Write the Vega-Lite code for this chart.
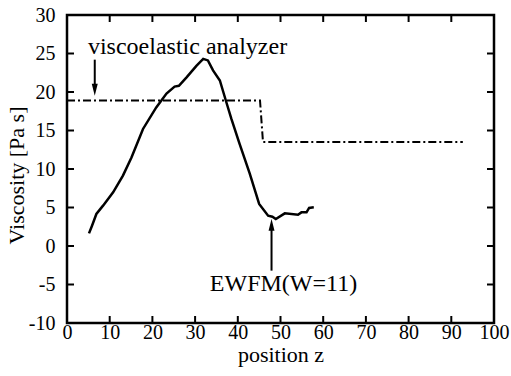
{
  "$schema": "https://vega.github.io/schema/vega-lite/v6.json",
  "width": 427,
  "height": 308,
  "autosize": {"type": "none"},
  "padding": {"left": 67, "top": 15, "right": 17, "bottom": 53},
  "background": "white",
  "config": {
    "view": {"stroke": "black", "strokeWidth": 2.5, "fill": "transparent"},
    "axis": {
      "grid": false,
      "domain": false,
      "ticks": false,
      "labelColor": "black",
      "labelFont": "Liberation Serif",
      "labelFontSize": 20,
      "titleFont": "Liberation Serif",
      "titleFontSize": 22,
      "titleFontWeight": "normal",
      "titleColor": "black",
      "labelFlush": false,
      "labelOverlap": false
    },
    "text": {"font": "Liberation Serif", "fontSize": 24, "color": "black"}
  },
  "datasets": {
    "curve": [
      {"z": 5.15, "v": 1.64},
      {"z": 5.86, "v": 2.64},
      {"z": 6.88, "v": 4.16},
      {"z": 8.44, "v": 5.24},
      {"z": 10.8, "v": 6.97},
      {"z": 13.1, "v": 9.14},
      {"z": 15.1, "v": 11.5},
      {"z": 17.8, "v": 15.2},
      {"z": 20.9, "v": 18.0},
      {"z": 23.3, "v": 19.8},
      {"z": 25.2, "v": 20.7},
      {"z": 26.2, "v": 20.8},
      {"z": 28.0, "v": 21.9},
      {"z": 30.3, "v": 23.4},
      {"z": 31.9, "v": 24.3},
      {"z": 33.0, "v": 24.1},
      {"z": 34.2, "v": 22.8},
      {"z": 35.8, "v": 21.5},
      {"z": 37.3, "v": 18.7},
      {"z": 38.5, "v": 16.5},
      {"z": 40.4, "v": 13.3},
      {"z": 42.8, "v": 9.4},
      {"z": 45.0, "v": 5.46},
      {"z": 47.1, "v": 3.94},
      {"z": 48.1, "v": 3.81},
      {"z": 48.9, "v": 3.51},
      {"z": 51.0, "v": 4.24},
      {"z": 54.1, "v": 4.07},
      {"z": 54.9, "v": 4.37},
      {"z": 56.1, "v": 4.37},
      {"z": 56.7, "v": 4.94},
      {"z": 57.8, "v": 5.02}
    ],
    "analyzer": [
      {"z": 0, "v": 18.9},
      {"z": 45.2, "v": 18.9},
      {"z": 45.9, "v": 13.5},
      {"z": 92.7, "v": 13.5}
    ],
    "labels": [
      {"z": 4.9, "v": 24.9, "label": "viscoelastic analyzer", "align": "left"},
      {"z": 50.7, "v": -5.8, "label": "EWFM(W=11)", "align": "center"}
    ],
    "arrows": [
      {"z": 6.5, "from": 24.2, "to": 20.3, "dir": "down"},
      {"z": 47.9, "from": -3.2, "to": 2.77, "dir": "up"}
    ],
    "xticks": [
      {"t": 10}, {"t": 20}, {"t": 30}, {"t": 40}, {"t": 50}, {"t": 60}, {"t": 70}, {"t": 80}, {"t": 90}
    ],
    "yticks": [
      {"t": -5}, {"t": 0}, {"t": 5}, {"t": 10}, {"t": 15}, {"t": 20}, {"t": 25}
    ]
  },
  "layer": [
    {
      "data": {"name": "curve"},
      "mark": {"type": "line", "color": "black", "strokeWidth": 2.5, "interpolate": "linear"},
      "encoding": {
        "x": {
          "field": "z", "type": "quantitative",
          "scale": {"domain": [0, 100], "nice": false, "zero": false},
          "axis": {"orient": "bottom", "title": "position z", "values": [0,10,20,30,40,50,60,70,80,90,100], "labelPadding": -1, "titleX": 213.5, "titleY": 38, "titleBaseline": "alphabetic", "titleAlign": "center"}
        },
        "y": {
          "field": "v", "type": "quantitative",
          "scale": {"domain": [-10, 30], "nice": false, "zero": false},
          "axis": {"orient": "left", "title": "Viscosity [Pa s]", "values": [-10,-5,0,5,10,15,20,25,30], "labelPadding": 12, "labelExpr": "datum.value < 0 ? '-' + abs(datum.value) : '' + datum.value", "titleX": -44, "titleY": 160, "titleBaseline": "alphabetic", "titleAlign": "center", "titleAngle": -90}
        }
      }
    },
    {
      "data": {"name": "xticks"},
      "mark": {"type": "tick", "orient": "vertical", "size": 14, "thickness": 2, "color": "black", "opacity": 1, "clip": true},
      "encoding": {
        "x": {"field": "t", "type": "quantitative", "axis": null},
        "y": {"datum": -10, "type": "quantitative", "axis": null}
      }
    },
    {
      "data": {"name": "xticks"},
      "mark": {"type": "tick", "orient": "vertical", "size": 14, "thickness": 2, "color": "black", "opacity": 1, "clip": true},
      "encoding": {
        "x": {"field": "t", "type": "quantitative", "axis": null},
        "y": {"datum": 30, "type": "quantitative", "axis": null}
      }
    },
    {
      "data": {"name": "yticks"},
      "mark": {"type": "tick", "orient": "horizontal", "size": 14, "thickness": 2, "color": "black", "opacity": 1, "clip": true},
      "encoding": {
        "y": {"field": "t", "type": "quantitative", "axis": null},
        "x": {"datum": 0, "type": "quantitative", "axis": null}
      }
    },
    {
      "data": {"name": "yticks"},
      "mark": {"type": "tick", "orient": "horizontal", "size": 14, "thickness": 2, "color": "black", "opacity": 1, "clip": true},
      "encoding": {
        "y": {"field": "t", "type": "quantitative", "axis": null},
        "x": {"datum": 100, "type": "quantitative", "axis": null}
      }
    },
    {
      "data": {"name": "analyzer"},
      "mark": {"type": "line", "color": "black", "strokeWidth": 2, "strokeDash": [8, 3, 2, 3]},
      "encoding": {
        "x": {"field": "z", "type": "quantitative", "axis": null},
        "y": {"field": "v", "type": "quantitative", "axis": null}
      }
    },
    {
      "data": {"name": "arrows"},
      "mark": {"type": "rule", "color": "black", "strokeWidth": 2},
      "encoding": {
        "x": {"field": "z", "type": "quantitative", "axis": null},
        "y": {"field": "from", "type": "quantitative", "axis": null},
        "y2": {"field": "to"}
      }
    },
    {
      "data": {"name": "arrows"},
      "transform": [{"filter": "datum.dir === 'down'"}],
      "mark": {"type": "point", "shape": "M0,1 L-0.5,-1 L0.5,-1 Z", "filled": true, "color": "black", "opacity": 1, "size": 144},
      "encoding": {
        "x": {"field": "z", "type": "quantitative", "axis": null},
        "y": {"field": "to", "type": "quantitative", "axis": null}
      }
    },
    {
      "data": {"name": "arrows"},
      "transform": [{"filter": "datum.dir === 'up'"}],
      "mark": {"type": "point", "shape": "M0,-1 L-0.5,1 L0.5,1 Z", "filled": true, "color": "black", "opacity": 1, "size": 144},
      "encoding": {
        "x": {"field": "z", "type": "quantitative", "axis": null},
        "y": {"field": "to", "type": "quantitative", "axis": null}
      }
    },
    {
      "data": {"name": "labels"},
      "transform": [{"filter": "datum.align === 'left'"}],
      "mark": {"type": "text", "align": "left", "baseline": "alphabetic"},
      "encoding": {
        "x": {"field": "z", "type": "quantitative", "axis": null},
        "y": {"field": "v", "type": "quantitative", "axis": null},
        "text": {"field": "label"}
      }
    },
    {
      "data": {"name": "labels"},
      "transform": [{"filter": "datum.align === 'center'"}],
      "mark": {"type": "text", "align": "center", "baseline": "alphabetic"},
      "encoding": {
        "x": {"field": "z", "type": "quantitative", "axis": null},
        "y": {"field": "v", "type": "quantitative", "axis": null},
        "text": {"field": "label"}
      }
    }
  ],
  "resolve": {"axis": {"x": "independent", "y": "independent"}}
}
